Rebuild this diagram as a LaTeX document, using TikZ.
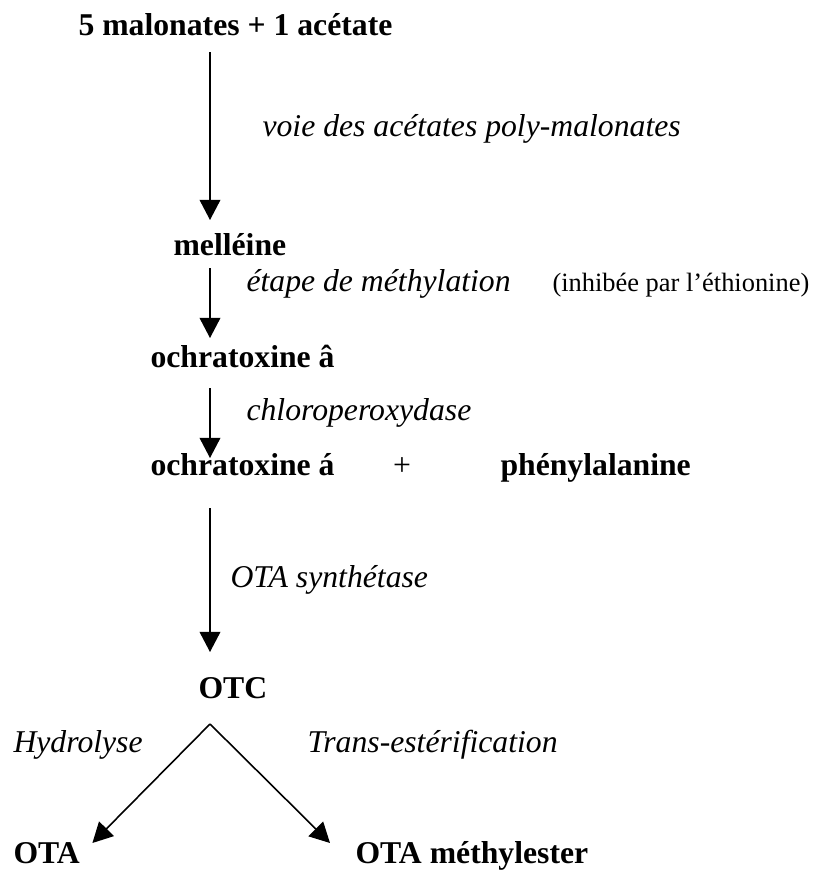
\documentclass[tikz,border=0pt]{standalone}
\usepackage{fontspec}
\setmainfont{Liberation Serif}
\usetikzlibrary{arrows.meta}
\usetikzlibrary{calc}

\tikzset{
  prod/.style={anchor=base west, inner sep=0pt, font=\fontsize{12}{14}\selectfont\bfseries},
  enz/.style={anchor=base west, inner sep=0pt, font=\fontsize{12}{14}\selectfont\itshape},
  fleche/.style={line width=0.6pt, -{Triangle[length=7.6pt,width=7.8pt]}},
}

\begin{document}
\begin{tikzpicture}[x=0.3785pt, y=-0.3785pt]
\useasboundingbox (0,0) rectangle (815,871);

\coordinate (axis) at (210,0);

% produits
\node[prod] (malon) at (78,35) {5 malonates + 1 acétate};
\node[prod] (mell) at (173,255) {melléine};
\node[prod] (ochrab) at (150,367) {ochratoxine â};
\node[prod] (ochraa) at (150,475) {ochratoxine á};
\node[anchor=base, inner sep=0pt, font=\fontsize{12}{14}\selectfont] (plus) at (402,475) {+};
\node[prod] (phe) at (500,475) {phénylalanine};
\node[prod] (otc) at (198,698) {OTC};
\node[prod] (ota) at (13,863) {OTA};
\node[prod] (otam) at (355,863) {OTA méthylester};

% etapes
\node[enz] (voie) at (262,136) {voie des acétates poly-malonates};
\node[enz] (meth) at (246,291) {étape de méthylation};
\node[anchor=base west, inner sep=0pt, font=\fontsize{10}{12}\selectfont] (inhib) at (552,291) {(inhibée par l’éthionine)};
\node[enz] (chloro) at (246,420) {chloroperoxydase};
\node[enz] (synth) at (230,587) {OTA synthétase};
\node[enz] (hydro) at (13,752) {Hydrolyse};
\node[enz] (trans) at (307,752) {Trans-estérification};

\draw[fleche] ($(malon.base -| axis)+(0,17)$) -- ($(mell.base -| axis)+(0,-35)$);
\draw[fleche] ($(mell.base -| axis)+(0,13)$) -- ($(ochrab.base -| axis)+(0,-29)$);
\draw[fleche] ($(ochrab.base -| axis)+(0,21)$) -- ($(ochraa.base -| axis)+(0,-17)$);
\draw[fleche] ($(ochraa.base -| axis)+(0,33)$) -- ($(otc.base -| axis)+(0,-46)$);

\coordinate (fork) at ($(otc.base -| axis)+(0,26)$);
\draw[fleche] (fork) -- ($(ota.base east)+(12,-20)$);
\draw[fleche] (fork) -- ($(otam.base west)+(-25,-20)$);

\end{tikzpicture}
\end{document}
